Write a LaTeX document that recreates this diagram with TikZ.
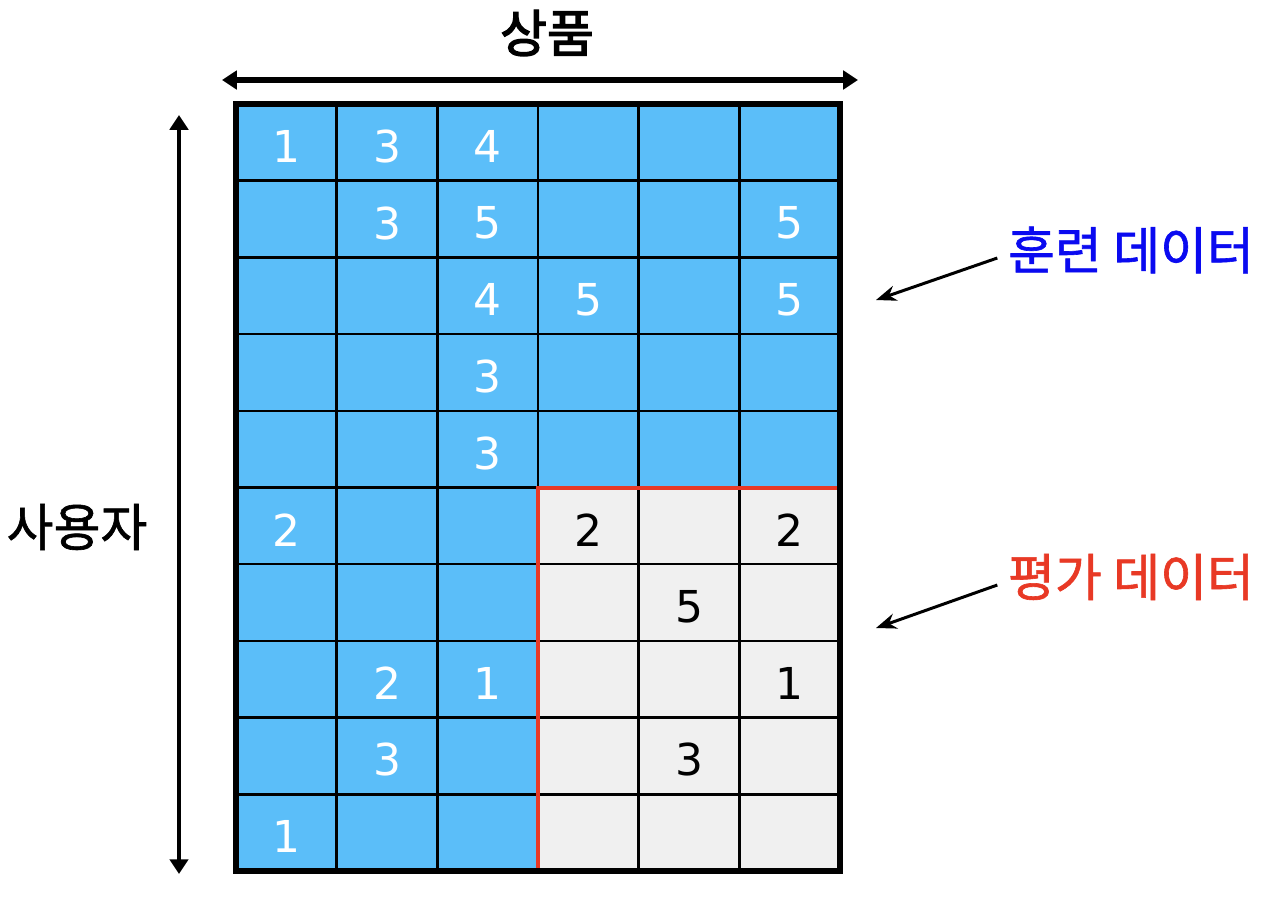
\documentclass[tikz,border=0pt]{standalone}
\usepackage{fontspec}
\setmainfont{DejaVu Sans}
\newfontfamily\krfont[FakeBold=1.2]{Noto Sans CJK KR}
\newfontfamily\krbold[FakeBold=2.6]{Noto Sans CJK KR}
\usetikzlibrary{arrows.meta}
\definecolor{trainblue}{RGB}{91,190,249}
\definecolor{testgray}{RGB}{240,240,240}
\definecolor{testred}{RGB}{232,57,37}
\definecolor{labelblue}{RGB}{10,10,240}
\tikzset{
  gridline/.style={line width=0.7pt},
  axisarrow/.style={line width=1.7pt, {Triangle[length=4.2pt,width=5.2pt]}-{Triangle[length=4.2pt,width=5.2pt]}},
  pointer/.style={line width=0.85pt, -{Stealth[length=5.8pt,width=4.4pt]}},
  rating/.style={font=\fontsize{12.5}{15}\selectfont, inner sep=0pt},
  title/.style={font=\krfont\fontsize{14.5}{17}\selectfont, inner sep=0pt},
  heading/.style={font=\krbold\fontsize{14.5}{17}\selectfont, inner sep=0pt},
}
\begin{document}
\begin{tikzpicture}[x=0.01cm, y=-0.01cm]
    \useasboundingbox (0,0) rectangle (1270,896);

    \fill[trainblue] (236,104) rectangle (840,871);
    \fill[testgray] (538,488) rectangle (840,871);
    \foreach \c in {1,...,5} \draw[gridline] ({236+\c*100.67},104) -- ({236+\c*100.67},871);
    \foreach \r in {1,...,9} \draw[gridline] (236,{104+\r*76.7}) -- (840,{104+\r*76.7});
    \draw[testred, line width=1.2pt] (538,871) |- (840,488);
    \draw[line width=1.5pt] (236,104) rectangle (840,871);

    \foreach \r/\c/\v in {1/1/1, 1/2/3, 1/3/4, 2/2/3, 2/3/5, 2/6/5, 3/3/4, 3/4/5, 3/6/5,
        4/3/3, 5/3/3, 6/1/2, 8/2/2, 8/3/1, 9/2/3, 10/1/1}
        \node[rating, white] (r-\r-\c) at ({236+(\c-0.5)*100.67},{104+(\r-0.5)*76.7+4}) {\v};
    \foreach \r/\c/\v in {6/4/2, 6/6/2, 7/5/5, 8/6/1, 9/5/3}
        \node[rating] (r-\r-\c) at ({236+(\c-0.5)*100.67},{104+(\r-0.5)*76.7+4}) {\v};

    \node[heading] (items) at (547,33) {상품};
    \node[title] (users) at (77,527) {사용자};
    \node[title, labelblue] (train) at (1131,250) {훈련 데이터};
    \node[title, testred] (test) at (1131,577) {평가 데이터};

    \coordinate (items-l) at (222,80);
    \coordinate (items-r) at (858,80);
    \coordinate (users-t) at (179,115);
    \coordinate (users-b) at (179,874);
    \coordinate (train-tip) at (876,300);
    \coordinate (test-tip) at (876,628);

    \draw[axisarrow] (items-l) -- (items-r);
    \draw[axisarrow, line width=1.4pt] (users-t) -- (users-b);
    \draw[pointer] ([shift={(-10,8)}]train.west) -- (train-tip);
    \draw[pointer] ([shift={(-10,8)}]test.west) -- (test-tip);
\end{tikzpicture}
\end{document}
